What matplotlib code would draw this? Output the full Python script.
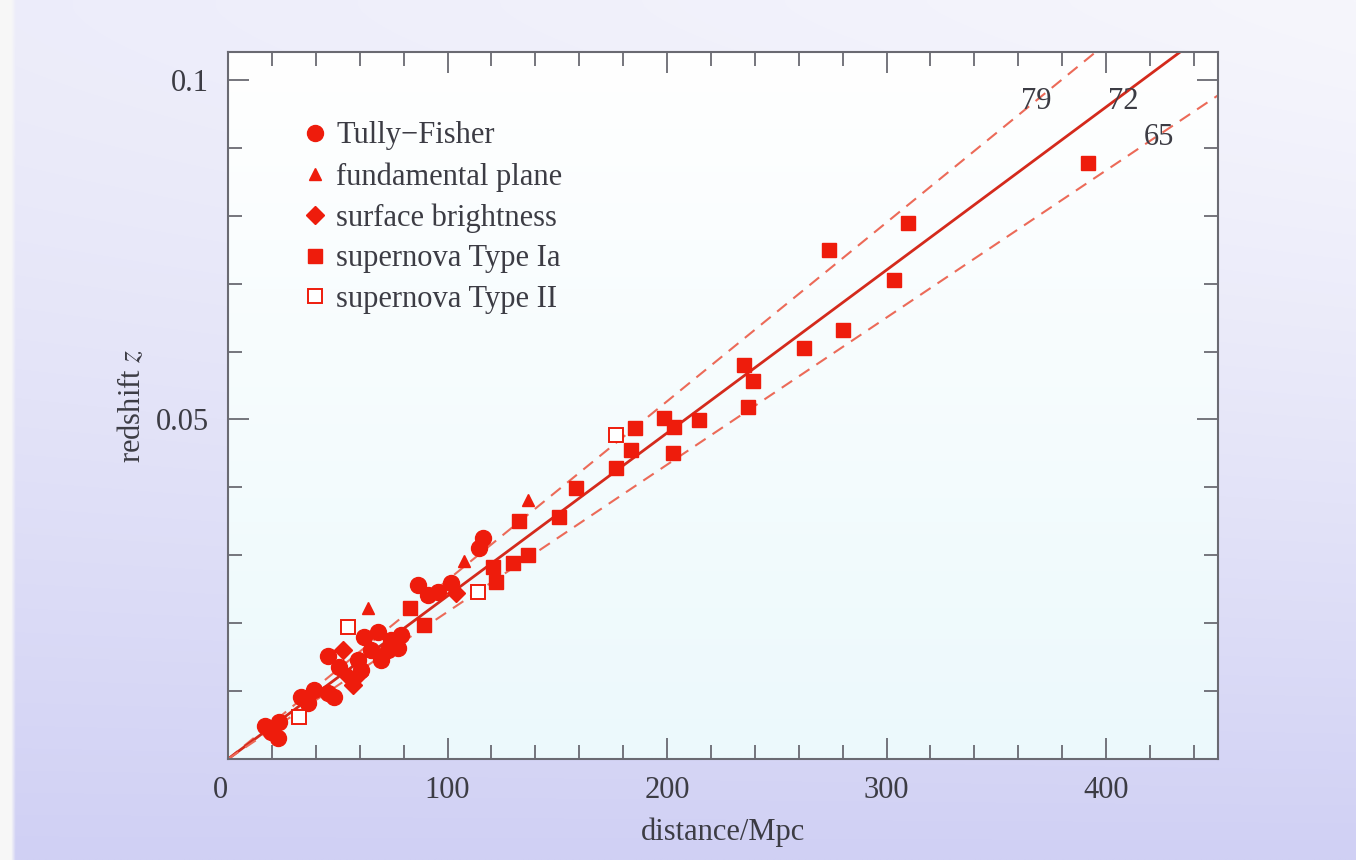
import numpy as np
import matplotlib.pyplot as plt
from matplotlib.ticker import MultipleLocator

plt.rcParams['font.family'] = ['Liberation Serif', 'DejaVu Serif']
plt.rcParams['mathtext.fontset'] = 'stix'

# Tully-Fisher (distance in Mpc, redshift)
tf_d = [17, 19.6, 22.6, 23.4, 33.3, 39.3, 45.4, 36.3, 48.4, 45.4, 50.7, 59.1, 60.6, 62.1,
        68.2, 65.1, 69.7, 74.3, 78.8, 72.8, 77.3, 86.4, 91, 95.5, 101.6, 116, 114.5]
tf_z = [0.0049, 0.0040, 0.0031, 0.0055, 0.0092, 0.0102, 0.0097, 0.0082, 0.0092, 0.0151,
        0.0136, 0.0146, 0.0131, 0.0180, 0.0187, 0.0161, 0.0146, 0.0175, 0.0183, 0.0161,
        0.0163, 0.0256, 0.0242, 0.0246, 0.0259, 0.0325, 0.0310]
# fundamental plane
fp_d = [63.6, 107.7, 136.5]
fp_z = [0.0222, 0.0291, 0.0381]
# surface brightness
sb_d = [52.3, 55.3, 56.8, 59.5, 103.9]
sb_z = [0.0161, 0.0121, 0.0109, 0.0125, 0.0244]
# supernova Type Ia
sn1_d = [83.0, 89.4, 120.6, 122.1, 129.7, 136.5, 132.7, 150.9, 158.5, 176.8, 183.6, 185.5,
         198.8, 203.3, 202.6, 214.7, 235.2, 239, 236.8, 262.6, 280, 274, 303.5, 309.6, 391.8]
sn1_z = [0.0223, 0.0198, 0.0283, 0.0261, 0.0288, 0.0300, 0.0350, 0.0357, 0.0399, 0.0428,
         0.0455, 0.0487, 0.0502, 0.0489, 0.0450, 0.0499, 0.0580, 0.0556, 0.0519, 0.0605,
         0.0632, 0.0750, 0.0705, 0.0789, 0.0878]
# supernova Type II
sn2_d = [32.5, 54.8, 113.8, 176.8]
sn2_z = [0.0062, 0.0195, 0.0246, 0.0477]

hubble = [79, 72, 65]
c_kms = 3.0e5

red = '#ee1c0c'
txt = '#3c3c44'

fig = plt.figure(figsize=(13.56, 8.6), dpi=100)

# page background (photo of a printed page)
bg = fig.add_axes([0, 0, 1, 1], zorder=-5)
ny, nx = 200, 300
t = np.linspace(0, 1, ny)[:, None]
s = np.linspace(0, 1, nx)[None, :]
top = np.array([246, 246, 252]) / 255
bot = np.array([208, 208, 244]) / 255
mix = np.clip(t ** 1.3 + 0.25 * (1 - s) * (1 - t), 0, 1)
img = top[None, None, :] * (1 - mix[..., None]) + bot[None, None, :] * mix[..., None]
img[:, :3, :] = 0.97
bg.imshow(img, aspect='auto', extent=[0, 1, 0, 1], interpolation='bilinear')
bg.set_axis_off()

ax = fig.add_axes([228 / 1356, 1 - 759 / 860, 990 / 1356, 707 / 860])
ax.set_xlim(0, 451)
ax.set_ylim(0, 0.1041)

# plot area tint
g = np.linspace(0, 1, 100)[:, None]
ptop = np.array([255, 255, 255]) / 255
pbot = np.array([236, 249, 252]) / 255
pimg = ptop[None, None, :] * (1 - g[..., None]) + pbot[None, None, :] * g[..., None]
pimg = np.repeat(pimg, 2, axis=1)
ax.imshow(pimg, aspect='auto', extent=[0, 451, 0, 0.1041], zorder=0, interpolation='bilinear')

d = np.linspace(0, 451, 50)
for h in hubble:
    z = h * d / c_kms
    if h == 72:
        ax.plot(d, z, color='#d42a1c', lw=2.0, zorder=2)
    else:
        ax.plot(d, z, color='#ec6a58', lw=1.5, dashes=(6, 4), zorder=2)

ax.text(368, 0.0968, '79', fontsize=22, color=txt, ha='center', va='center')
ax.text(408, 0.0968, '72', fontsize=22, color=txt, ha='center', va='center')
ax.text(424, 0.0915, '65', fontsize=22, color=txt, ha='center', va='center')

ax.plot(tf_d, tf_z, 'o', color=red, ms=11.5, ls='none', zorder=3, label='Tully\u2212Fisher')
ax.plot(fp_d, fp_z, '^', color=red, ms=9, ls='none', zorder=3, label='fundamental plane')
ax.plot(sb_d, sb_z, 'D', color=red, ms=9, ls='none', zorder=3, label='surface brightness')
ax.plot(sn1_d, sn1_z, 's', color=red, ms=10.5, ls='none', zorder=3, label='supernova Type Ia')
ax.plot(sn2_d, sn2_z, 's', mfc='white', mec=red, mew=1.4, ms=10.5, ls='none', zorder=3,
        label='supernova Type II')

leg = ax.legend(loc='upper left', bbox_to_anchor=(0.06, 0.919), frameon=False, fontsize=22,
                handletextpad=0.2, labelspacing=0.38, handlelength=1.0, borderaxespad=0)
for tx in leg.get_texts():
    tx.set_color(txt)

ax.set_xticks([0, 100, 200, 300, 400])
ax.set_xticklabels(['0', '100', '200', '300', '400'])
ax.xaxis.set_minor_locator(MultipleLocator(20))
ax.set_yticks([0, 0.05, 0.1])
ax.set_yticklabels(['', '0.05', '0.1'])
ax.yaxis.set_minor_locator(MultipleLocator(0.01))
ax.tick_params(which='both', direction='in', top=True, right=True, colors='#6a6a72',
               labelcolor=txt, labelsize=22, width=1.3)
ax.tick_params(which='major', length=15)
ax.tick_params(which='minor', length=10)
ax.tick_params(axis='x', pad=12)
ax.tick_params(axis='y', pad=14)
ax.get_xticklabels()[0].set_ha('right')
for sp in ax.spines.values():
    sp.set_color('#6a6a72')
    sp.set_linewidth(1.5)

ax.set_xlabel('distance/Mpc', fontsize=22, color=txt, labelpad=9)
ax.set_ylabel('redshift $z$', fontsize=22, color=txt, labelpad=6)

fig.savefig('out.png', dpi=100)
